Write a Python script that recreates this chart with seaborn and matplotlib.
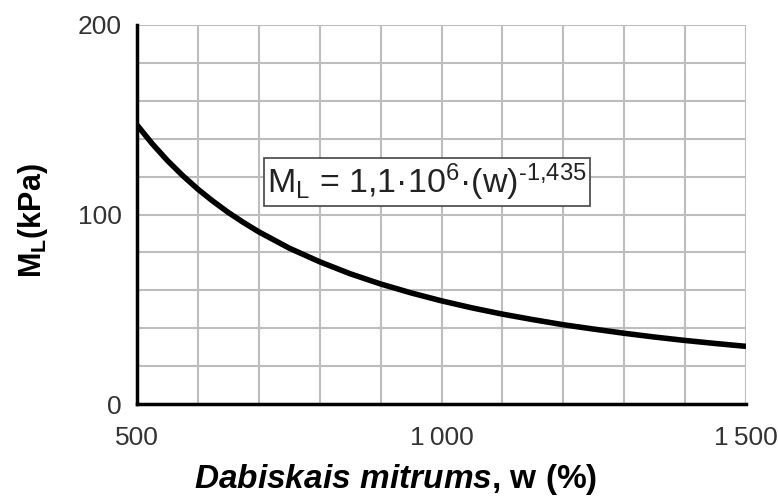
import matplotlib
matplotlib.use("Agg")
import matplotlib.pyplot as plt
from matplotlib.ticker import MultipleLocator
import pandas as pd
import seaborn as sns

# values
moisture = [500, 525, 550, 575, 600, 625, 650, 675, 700, 750, 800, 850, 900, 950, 1000,
            1050, 1100, 1150, 1200, 1250, 1300, 1350, 1400, 1450, 1500]
modulus = [147.3, 137.4, 128.5, 120.6, 113.4, 107.0, 101.1, 95.8, 90.9, 82.3, 75.1,
           68.8, 63.4, 58.7, 54.5, 50.8, 47.5, 44.6, 41.9, 39.6, 37.4, 35.4, 33.6,
           32.0, 30.5]
x_ticks = [500, 1000, 1500]
x_tick_labels = ["500", "1\u2009000", "1\u2009500"]
y_ticks = [0, 100, 200]

df = pd.DataFrame({"w": moisture, "ml": modulus})

sns.set_theme(style="white")
plt.rcParams["font.family"] = ["Liberation Sans", "DejaVu Sans"]
plt.rcParams["mathtext.fontset"] = "custom"
plt.rcParams["mathtext.rm"] = "Liberation Sans"
plt.rcParams["mathtext.it"] = "Liberation Sans:italic:bold"
plt.rcParams["mathtext.bf"] = "Liberation Sans:bold"

fig = plt.figure(figsize=(7.78, 4.99), dpi=100)
ax = fig.add_axes([0.176, 0.19, 0.783, 0.76])

sns.lineplot(data=df, x="w", y="ml", color="black", linewidth=4, ax=ax, zorder=3)
ax.lines[0].set_solid_capstyle("butt")
ax.lines[0].set_solid_joinstyle("round")

ax.set_xlim(500, 1500)
ax.set_ylim(0, 200)
ax.set_xticks(x_ticks)
ax.set_xticklabels(x_tick_labels)
ax.set_yticks(y_ticks)
ax.xaxis.set_minor_locator(MultipleLocator(100))
ax.yaxis.set_minor_locator(MultipleLocator(20))
ax.grid(True, which="both", color="#bdbdbd", linewidth=1.5, zorder=0)
ax.set_axisbelow(True)

for side in ["top", "right"]:
    ax.spines[side].set_visible(False)
for side in ["left", "bottom"]:
    ax.spines[side].set_color("black")
    ax.spines[side].set_linewidth(2.5)
    ax.spines[side].set_zorder(4)

ax.tick_params(axis="both", which="major", direction="out", length=6, width=2.5,
               color="black", labelsize=19, labelcolor="#333333")
ax.tick_params(axis="both", which="minor", length=0)
ax.tick_params(axis="x", pad=10)
ax.tick_params(axis="y", pad=5)

ax.set_xlabel(r"$\mathit{Dabiskais\ mitrums}$, w (%)", fontsize=24,
              fontweight="bold", color="black")
ax.xaxis.set_label_coords(0.424, -0.152)
ax.set_ylabel(r"M$_\mathregular{L}$(kPa)", fontsize=22, fontweight="bold",
              color="black")
ax.yaxis.set_label_coords(-0.143, 0.485)

ax.text(976, 117,
        r"M$_\mathregular{L}$ = 1,1·10$^\mathregular{6}$·(w)$^\text{-1,435}$",
        fontsize=24.5, color="#222222", ha="center", va="center", zorder=5,
        bbox=dict(boxstyle="square,pad=0.1", facecolor="white",
                  edgecolor="#444444", linewidth=1.2))

fig.savefig("out.png", dpi=100)
